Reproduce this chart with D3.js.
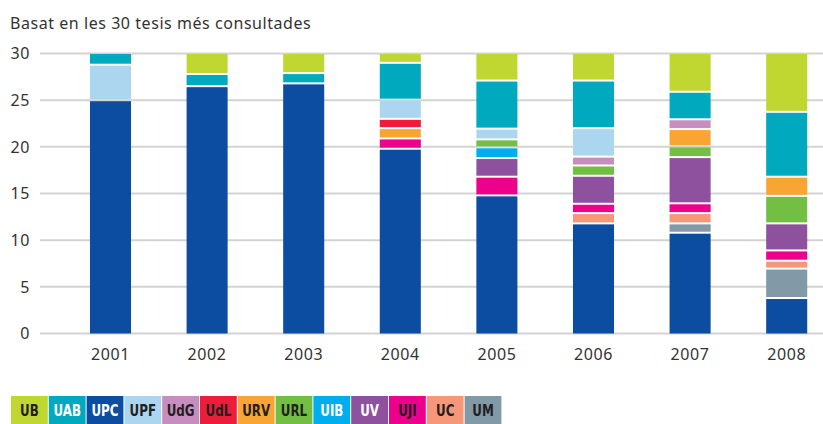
<!DOCTYPE html>
<html lang="ca">
<head>
<meta charset="UTF-8">
<title>Tesis més consultades</title>
<style>
    body {
        margin: 0;
        padding: 0;
        background-color: #fff;
        font-family: 'Noto Sans', sans-serif;
    }
    svg text {
        fill: #333;
    }
    .legend text {
        font-family: 'Liberation Sans Narrow', 'DejaVu Sans Condensed', sans-serif;
        font-weight: bold;
        font-size: 16.5px;
    }
</style>
</head>
<body>
<div id="chart"></div>
<script src="https://d3js.org/d3.v7.min.js"></script>
<script>
    const years = ["2001", "2002", "2003", "2004", "2005", "2006", "2007", "2008"];
    // stacking order, bottom to top
    const universities = ["UPC", "UM", "UC", "UJI", "UV", "UIB", "URL", "URV", "UdL", "UdG", "UPF", "UAB", "UB"];
    // legend order
    const legendOrder = ["UB", "UAB", "UPC", "UPF", "UdG", "UdL", "URV", "URL", "UIB", "UV", "UJI", "UC", "UM"];
    const yTicks = [0, 5, 10, 15, 20, 25, 30];

    // values per university, one per year
    const UPC = [25, 26.5, 26.8, 19.8, 14.8, 11.8, 10.8, 3.8];
    const UM  = [0, 0, 0, 0, 0, 0, 1.0, 3.15];
    const UC  = [0, 0, 0, 0, 0, 1.1, 1.1, 0.85];
    const UJI = [0, 0, 0, 1.1, 2.0, 1.0, 1.05, 1.1];
    const UV  = [0, 0, 0, 0, 2.0, 3.0, 4.95, 2.9];
    const UIB = [0, 0, 0, 0, 1.15, 0, 0, 0];
    const URL = [0, 0, 0, 0, 0.85, 1.1, 1.15, 2.95];
    const URV = [0, 0, 0, 1.1, 0, 0, 1.85, 2.05];
    const UdL = [0, 0, 0, 1.0, 0, 0, 0, 0];
    const UdG = [0, 0, 0, 0, 0, 0.95, 1.05, 0];
    const UPF = [3.8, 0, 0, 2.05, 1.15, 3.05, 0, 0];
    const UAB = [1.2, 1.3, 1.1, 3.95, 5.15, 5.1, 2.95, 6.95];
    const UB  = [0, 2.2, 2.1, 1.0, 2.9, 2.9, 4.1, 6.25];

    const series = {UPC, UM, UC, UJI, UV, UIB, URL, URV, UdL, UdG, UPF, UAB, UB};

    const colors = {
        UB: "#bfd730", UAB: "#00a9be", UPC: "#0c4da2", UPF: "#acd6f0",
        UdG: "#c88dbf", UdL: "#ec1c3a", URV: "#f9a533", URL: "#72bf44",
        UIB: "#00adee", UV: "#8e519e", UJI: "#ec008c", UC: "#f6977a", UM: "#8299a8"
    };
    const whiteText = ["UAB", "UPC", "UIB", "UV"];

    const width = 823, height = 424;

    const svg = d3.select("#chart").append("svg")
        .attr("width", width)
        .attr("height", height);

    const x = d3.scaleBand()
        .domain(years)
        .range([62.2, 835])
        .paddingInner(0.575)
        .paddingOuter(0.2875);

    const y = d3.scaleLinear()
        .domain([0, 30])
        .range([333.5, 53.5]);

    // title
    svg.append("text")
        .attr("x", 10)
        .attr("y", 29)
        .style("font-size", "16px")
        .style("letter-spacing", "0.55px")
        .text("Basat en les 30 tesis més consultades");

    // grid lines
    svg.append("g")
        .selectAll("line")
        .data(yTicks)
        .enter().append("line")
        .attr("x1", 40)
        .attr("x2", width)
        .attr("y1", d => y(d))
        .attr("y2", d => y(d))
        .attr("stroke", "#d3d3d3")
        .attr("stroke-width", 2);

    // y labels
    svg.append("g")
        .selectAll("text")
        .data(yTicks)
        .enter().append("text")
        .attr("x", 30)
        .attr("y", d => y(d))
        .attr("dy", "0.36em")
        .attr("text-anchor", "end")
        .style("font-size", "16px")
        .style("letter-spacing", "0.6px")
        .text(d => d);

    // x labels
    svg.append("g")
        .selectAll("text")
        .data(years)
        .enter().append("text")
        .attr("x", d => x(d) + x.bandwidth() / 2)
        .attr("y", 360)
        .attr("text-anchor", "middle")
        .style("font-size", "16px")
        .style("letter-spacing", "0.6px")
        .text(d => d);

    // stacked bars
    const table = years.map(function (yr, i) {
        const row = {year: yr};
        universities.forEach(u => row[u] = series[u][i]);
        return row;
    });

    const stack = d3.stack().keys(universities)(table);

    svg.append("g")
        .selectAll("g")
        .data(stack)
        .enter().append("g")
        .attr("fill", d => colors[d.key])
        .selectAll("rect")
        .data(d => d.filter(s => s[1] - s[0] > 0))
        .enter().append("rect")
        .attr("x", d => x(d.data.year))
        .attr("width", x.bandwidth())
        .attr("y", d => y(d[1]) + (d[1] < 29.99 ? 1 : 0.5))
        .attr("height", function (d) {
            const top = y(d[1]) + (d[1] < 29.99 ? 1 : 0.5);
            const bottom = y(d[0]) - (d[0] > 0 ? 1 : 0);
            return Math.max(0, bottom - top);
        });

    // legend
    const boxW = 37.8;
    const legend = svg.append("g")
        .attr("class", "legend")
        .selectAll("g")
        .data(legendOrder)
        .enter().append("g")
        .attr("transform", (d, i) => "translate(" + (11 + i * boxW) + ",396)");

    legend.append("rect")
        .attr("width", boxW - 1)
        .attr("height", 28)
        .attr("fill", d => colors[d]);

    // condensed look: squeeze the glyphs horizontally
    legend.append("text")
        .attr("transform", "translate(" + ((boxW - 1) / 2) + ",14) scale(0.8,1)")
        .attr("dy", "0.36em")
        .attr("text-anchor", "middle")
        .style("fill", d => whiteText.includes(d) ? "#fff" : "#231f20")
        .text(d => d);
</script>
</body>
</html>
